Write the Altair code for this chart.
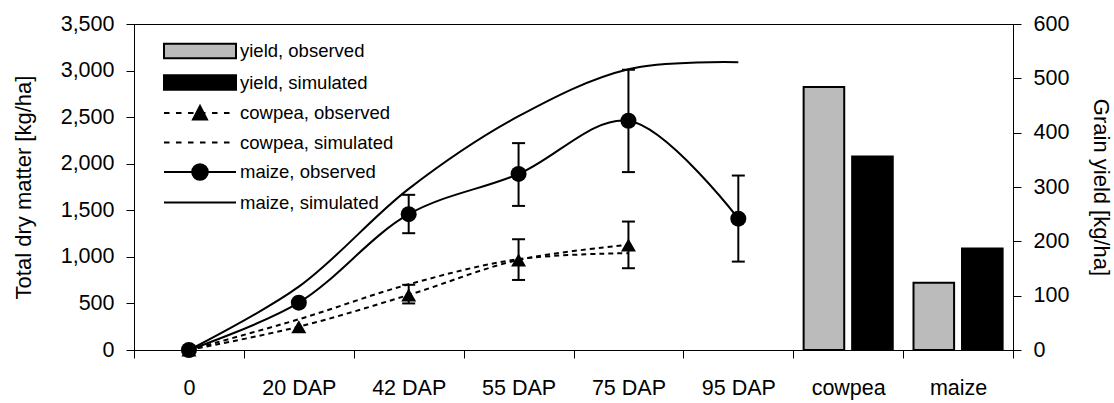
import altair as alt
import pandas as pd

# ---------------- data ----------------
stages = ["0", "20 DAP", "42 DAP", "55 DAP", "75 DAP", "95 DAP"]
crops = ["cowpea", "maize"]
x_labels = stages + crops

maize_observed = [0, 508, 1458, 1890, 2461, 1410]
maize_obs_low = [None, None, 1254, 1547, 1910, 949]
maize_obs_high = [None, None, 1666, 2221, 3009, 1873]
maize_simulated = [0, 680, 1730, 2510, 3015, 3090]

cowpea_observed = [0, 250, 591, 967, 1128]
cowpea_obs_low = [None, None, 500, 752, 878]
cowpea_obs_high = [None, None, 700, 1189, 1379]
cowpea_simulated = [0, 330, 705, 975, 1040]

yield_observed = [484, 124]
yield_simulated = [356, 187]

series_names = ["yield, observed", "yield, simulated", "cowpea, observed",
                "cowpea, simulated", "maize, observed", "maize, simulated"]

FONT = "Liberation Sans"

# ---------------- tables ----------------
rows = []
for i, v in enumerate(maize_simulated):
    rows.append({"series": "maize, simulated", "pos": i, "value": v})
for i, v in enumerate(cowpea_simulated):
    rows.append({"series": "cowpea, simulated", "pos": i, "value": v})
for i, v in enumerate(maize_observed):
    rows.append({"series": "maize, observed", "pos": i, "value": v,
                 "lo": maize_obs_low[i], "hi": maize_obs_high[i]})
for i, v in enumerate(cowpea_observed):
    rows.append({"series": "cowpea, observed", "pos": i, "value": v,
                 "lo": cowpea_obs_low[i], "hi": cowpea_obs_high[i]})
lines_df = pd.DataFrame(rows)

bar_rows = []
for c, o, s in zip(crops, yield_observed, yield_simulated):
    bar_rows.append({"cat": c, "kind": "observed", "series": "yield, observed", "value": o})
    bar_rows.append({"cat": c, "kind": "simulated", "series": "yield, simulated", "value": s})
bars_df = pd.DataFrame(bar_rows)

# ---------------- legend symbols (custom paths, unit = 10 px) ----------------
def dash_path():
    out = []
    x = -1.0
    while x < 6.1:
        out.append(f"M{x:.2f},0H{min(x + 0.55, 6.2):.2f}")
        x += 1.2
    return "".join(out)

rect = "M-1,-0.72H6.2V0.72H-1Z"
tri = "M1.9,0.65L2.6,-0.7L3.3,0.65Z"
circ = "M3.38,0A0.78,0.78 0 1,1 1.82,0A0.78,0.78 0 1,1 3.38,0Z"
solid = "M-1,0H6.2"
shape_range = [rect, rect, dash_path() + tri, dash_path(), solid + circ, solid]
fill_range = ["#bbbbbb", "black", "black", "black", "black", "black"]
stroke_range = ["black"] * 6

LEG = alt.Legend(title=None, orient="none", legendX=29, legendY=16, padding=0,
                 symbolSize=400, symbolStrokeWidth=2, symbolOpacity=1,
                 labelFont=FONT, labelFontSize=18.5, labelColor="black",
                 labelOffset=55, rowPadding=7.5, labelLimit=400)

fill_enc = alt.Fill("series:N", scale=alt.Scale(domain=series_names, range=fill_range), legend=LEG)
stroke_enc = alt.Stroke("series:N", scale=alt.Scale(domain=series_names, range=stroke_range), legend=LEG)

# ---------------- bars (right axis) ----------------
bars = alt.Chart(bars_df).mark_bar(strokeWidth=2, opacity=1).encode(
    x=alt.X("cat:N", sort=x_labels,
            scale=alt.Scale(domain=x_labels, paddingInner=0, paddingOuter=0),
            axis=alt.Axis(title=None, tickBand="extent", labelAngle=0, labelPadding=19)),
    xOffset=alt.XOffset("kind:N", scale=alt.Scale(domain=["observed", "simulated"],
                                                   paddingInner=0.163, paddingOuter=0.214)),
    y=alt.Y("value:Q", stack=None, scale=alt.Scale(domain=[0, 600], nice=False),
            axis=alt.Axis(orient="right", values=list(range(0, 601, 100)), format="d",
                          title="Grain yield [kg/ha]")),
    fill=fill_enc,
    stroke=stroke_enc,
)

# ---------------- lines (left axis) ----------------
X_Q = alt.X("pos:Q", scale=alt.Scale(domain=[-0.5, 7.5], nice=False, zero=False), axis=None)
Y_SCALE = alt.Scale(domain=[0, 3500], nice=False)
Y_AXIS = alt.Axis(orient="left", values=list(range(0, 3501, 500)), format=",.0f",
                  title="Total dry matter [kg/ha]", titlePadding=25)
Y_L = alt.Y("value:Q", scale=Y_SCALE, axis=Y_AXIS, title="Total dry matter [kg/ha]")

base = alt.Chart(lines_df)

maize_sim_line = base.transform_filter("datum.series == 'maize, simulated'").mark_line(
    color="black", strokeWidth=2, interpolate="catmull-rom").encode(x=X_Q, y=Y_L)
cowpea_sim_line = base.transform_filter("datum.series == 'cowpea, simulated'").mark_line(
    color="black", strokeWidth=2, strokeDash=[5, 4], interpolate="catmull-rom").encode(x=X_Q, y=Y_L)
maize_obs_line = base.transform_filter("datum.series == 'maize, observed'").mark_line(
    color="black", strokeWidth=2, interpolate="catmull-rom").encode(x=X_Q, y=Y_L)
cowpea_obs_line = base.transform_filter("datum.series == 'cowpea, observed'").mark_line(
    color="black", strokeWidth=2, strokeDash=[5, 4], interpolate="catmull-rom").encode(x=X_Q, y=Y_L)

err = base.transform_filter("isValid(datum.lo) && datum.lo != null")
err_rule = err.mark_rule(color="black", strokeWidth=2).encode(
    x=X_Q, y=alt.Y("lo:Q", scale=Y_SCALE, axis=Y_AXIS, title="Total dry matter [kg/ha]"), y2="hi:Q")
err_lo = err.mark_tick(orient="horizontal", size=13, thickness=2, color="black", opacity=1).encode(
    x=X_Q, y=alt.Y("lo:Q", scale=Y_SCALE, axis=Y_AXIS, title="Total dry matter [kg/ha]"))
err_hi = err.mark_tick(orient="horizontal", size=13, thickness=2, color="black", opacity=1).encode(
    x=X_Q, y=alt.Y("hi:Q", scale=Y_SCALE, axis=Y_AXIS, title="Total dry matter [kg/ha]"))

maize_pts = base.transform_filter("datum.series == 'maize, observed'").mark_point(
    shape="circle", filled=True, size=256, color="black", opacity=1).encode(x=X_Q, y=Y_L)
cowpea_pts = base.transform_filter("datum.series == 'cowpea, observed'").mark_point(
    shape="triangle-up", filled=True, size=225, color="black", opacity=1).encode(x=X_Q, y=Y_L)

legend_layer = alt.Chart(pd.DataFrame({"series": series_names})).transform_filter("false").mark_point(
    filled=True, opacity=1).encode(
    shape=alt.Shape("series:N", scale=alt.Scale(domain=series_names, range=shape_range), legend=LEG),
    fill=fill_enc,
    stroke=stroke_enc,
)

lines = alt.layer(maize_sim_line, cowpea_sim_line, maize_obs_line, cowpea_obs_line,
                  err_rule, err_lo, err_hi, maize_pts, cowpea_pts, legend_layer)

chart = alt.layer(alt.layer(bars), lines).resolve_scale(
    x="independent", y="independent"
).properties(
    width=879, height=326,
    autosize=alt.AutoSizeParams(type="none"),
    padding={"left": 134, "top": 24, "right": 101, "bottom": 53},
).configure_view(stroke="black", strokeWidth=1).configure_axis(
    labelFont=FONT, titleFont=FONT, labelColor="black", titleColor="black",
    domainColor="black", tickColor="black", grid=False, titleFontWeight="normal",
    labelFontSize=21.5, titleFontSize=22, tickSize=8, labelPadding=12, titlePadding=20,
    domainWidth=1, tickWidth=1,
)

chart.save("out.html", embed_options={"renderer": "svg", "actions": False})
